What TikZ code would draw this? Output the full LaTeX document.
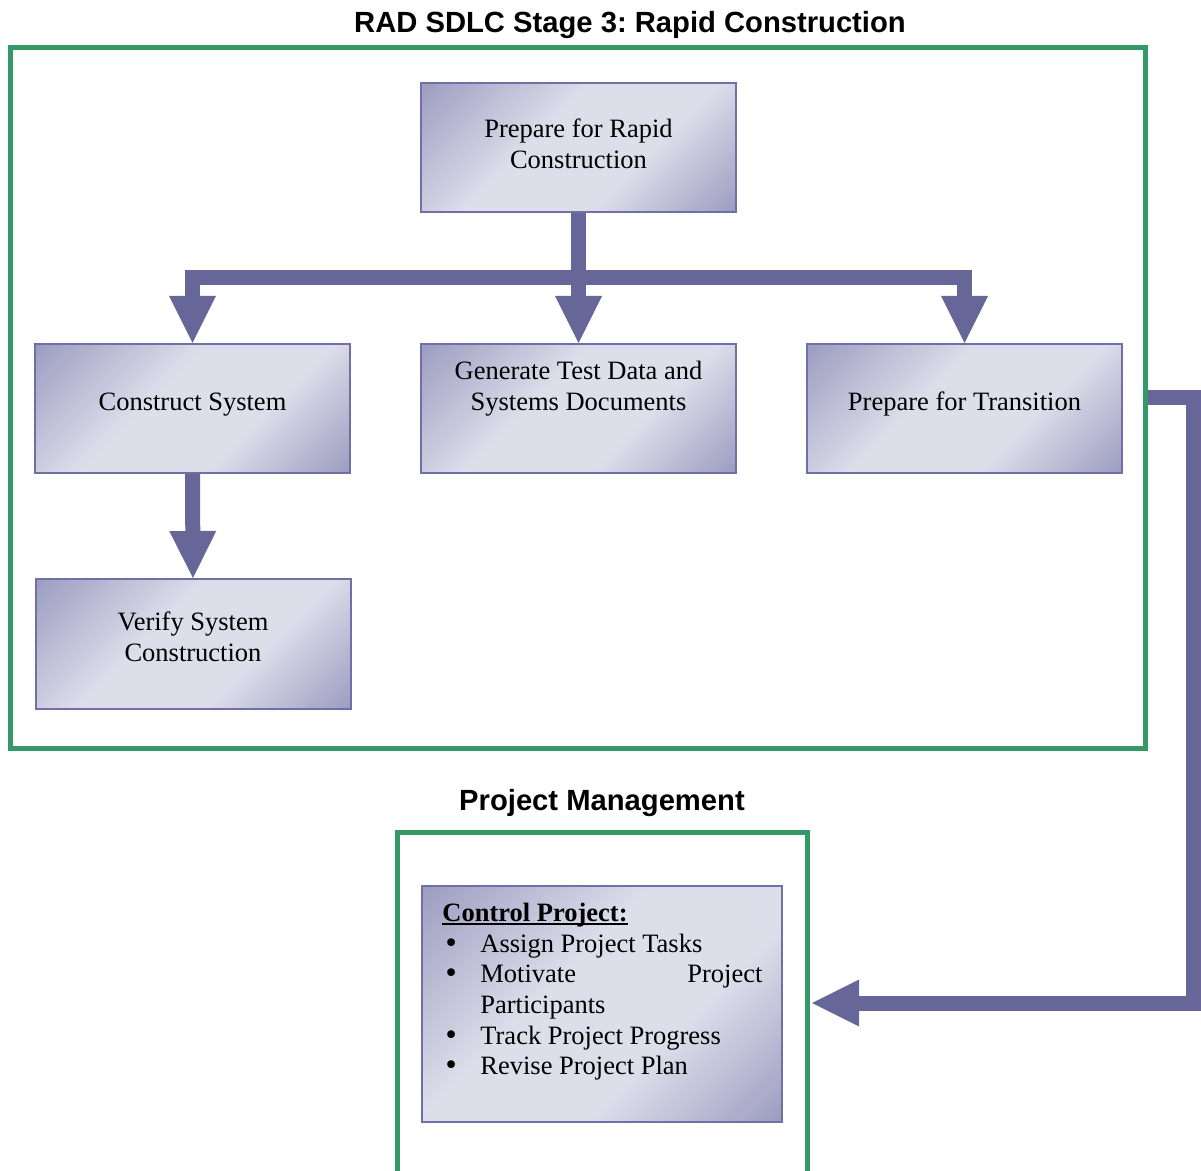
\documentclass[tikz,border=0pt]{standalone}
\usepackage{fontspec}
\setmainfont{Liberation Serif}
\newfontfamily\headfont{Liberation Sans}
\newfontfamily\bulletfont{DejaVu Sans}
\usetikzlibrary{arrows.meta}
\frenchspacing

\definecolor{frameGreen}{RGB}{51,153,102}
\definecolor{flowBlue}{RGB}{102,102,153}
\definecolor{boxEdge}{RGB}{112,112,168}
\definecolor{boxDark}{RGB}{157,157,193}
\definecolor{boxLight}{RGB}{222,222,235}

% diagonal light band across each step box, darker in two opposite corners
\pgfdeclarehorizontalshading{boxgrad}{100bp}{color(0bp)=(boxDark); color(15bp)=(boxDark); color(42bp)=(boxLight); color(62bp)=(boxLight); color(85bp)=(boxDark); color(100bp)=(boxDark)}

\tikzset{
  frame/.style={draw=frameGreen, line width=2.5pt, line join=miter},
  stepbox/.style={draw=boxEdge, line width=1pt, shading=boxgrad, shading angle=-45,
    minimum width=157.5pt, minimum height=64.5pt, inner sep=0pt},
  boxtext/.style={font=\fontsize{13.25}{15.5}\selectfont, align=center, inner sep=0pt},
  listtext/.style={font=\fontsize{13.25}{15.3}\selectfont, align=left, inner sep=0pt},
  flow/.style={draw=flowBlue, line width=7.5pt, line join=miter},
  head/.style={-{Triangle[length=23.5pt,width=23.5pt,line width=0pt]}},
  heading/.style={font=\headfont\bfseries\fontsize{14.6}{17}\selectfont, inner sep=0pt},
}

% list bullet
\newcommand{\listitem}{\hspace*{0.5pt}\makebox[18.5pt][l]{{\bulletfont •}}}
% heading underline: tight and heavy
\newcommand{\heavyul}[1]{\setbox0\hbox{#1}\rlap{\rule[-1.6pt]{\wd0}{0.9pt}}\box0}

\begin{document}
\begin{tikzpicture}[x=0.5pt,y=-0.5pt]
\useasboundingbox (0,0) rectangle (1201,1171);

% headings
\node[heading] (stageTitle) at (630,25) {RAD SDLC Stage 3: Rapid Construction};
\node[heading] (pmTitle) at (602,803) {Project Management};

% green frames
\draw[frame] (10.5,47.5) rectangle (1145.5,748.5);
\draw[frame] (397.5,1185) -- (397.5,832.5) -- (807.5,832.5) -- (807.5,1185);

% step boxes
\node[stepbox] (prep)   at (578.5,147.5) {};
\node[stepbox] (cons)   at (192.5,408.5) {};
\node[stepbox] (gen)    at (578.5,408.5) {};
\node[stepbox] (trans)  at (964.5,408.5) {};
\node[stepbox, minimum height=65pt] (verify) at (193,644) {};
\node[stepbox, minimum width=180pt, minimum height=118pt] (ctrl) at (602,1004) {};

% box labels
\node[boxtext] (prepT)   at ([yshift=2pt]prep.center)     {Prepare for Rapid\\Construction};
\node[boxtext] (consT)   at ([yshift=2pt]cons.center)     {Construct System};
\node[boxtext] (genT)    at ([yshift=10pt]gen.center)     {Generate Test Data and\\Systems Documents};
\node[boxtext] (transT)  at ([yshift=2.5pt]trans.center)  {Prepare for Transition};
\node[boxtext] (verifyT) at ([yshift=3.5pt]verify.center) {Verify System\\Construction};

\node[listtext, anchor=north west] (ctrlT) at (442,903) {%
  \heavyul{\textbf{Control Project:}}\\
  \listitem Assign Project Tasks\\
  \listitem\makebox[141pt][s]{Motivate\hfill Project}\\
  \hspace*{19pt}Participants\\
  \listitem Track Project Progress\\
  \listitem Revise Project Plan};

% flow arrows
\coordinate (hub) at (578.5,278);
\draw[flow] (prep.south) -- (hub);
\draw[flow,head] (hub) -| (cons.north);
\draw[flow,head] (hub) -- (gen.north);
\draw[flow,head] (hub) -| (trans.north);
\draw[flow,head] (cons.south) -- (verify.north);

% hand-over to project management
\coordinate (fbStart)  at (1148,398);
\coordinate (fbCorner) at (1193,1003);
\coordinate (fbEnd)    at (812,1003);
\draw[flow,head] (fbStart) -| (fbCorner) -- (fbEnd);
\end{tikzpicture}
\end{document}
